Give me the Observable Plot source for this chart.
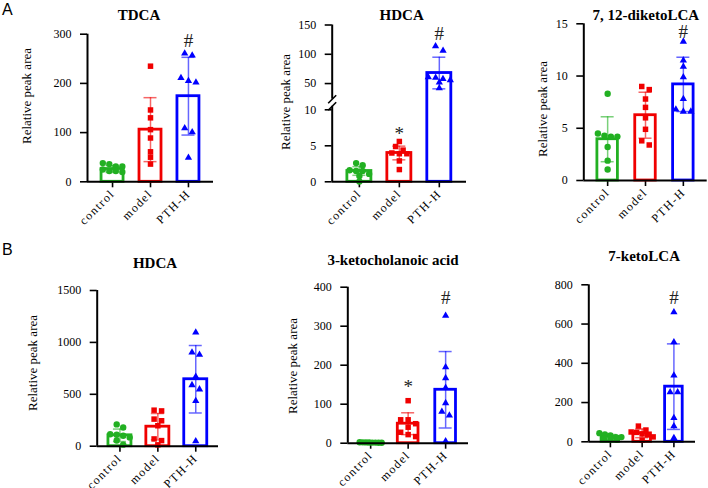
<!DOCTYPE html>
<html><head><meta charset="utf-8">
<script src="https://cdn.jsdelivr.net/npm/d3@7"></script>
<script src="https://cdn.jsdelivr.net/npm/@observablehq/plot@0.6"></script>
<style>
body{margin:0;background:#fff;}
#chart{position:relative;width:708px;height:488px;background:#fff;overflow:hidden;font-family:"Liberation Serif",serif;color:#000;}
#chart svg{position:absolute;}
#chart svg [aria-label="x-axis tick label"] text,#chart svg [aria-label="x-axis"] text{letter-spacing:1.4px;}
#chart svg g[aria-label$="axis tick"] path,#chart svg g[aria-label$="-axis"] .tick line{stroke-width:1.6px;}
.ttl{position:absolute;font-weight:bold;font-size:15px;line-height:1;white-space:nowrap;transform:translateX(-50%);}
.ylab{position:absolute;font-size:13px;line-height:1;white-space:nowrap;transform:translate(-50%,-50%) rotate(-90deg);}
.plab{position:absolute;font-family:"Liberation Sans",Arial,sans-serif;font-size:16px;line-height:1;}
</style></head>
<body><div id="chart"></div>
<script>
// ---------------- data ----------------
const groups = ["control", "model", "PTH-H"];
const colors = ["#22b022", "#f00000", "#0000ff"];
const symbols = ["circle", "square", "triangle"];

// A: TDCA
const tdcaControl = [38, 36, 31, 31, 25, 22, 22, 20];
const tdcaModel = [235, 146, 130, 106, 89, 61, 50, 36];
const tdcaPTH = [261, 257, 211, 205, 202, 109, 101, 49];
const tdcaMean = [26, 106, 174];
const tdcaSD = [7, 65, 79];
const tdcaTicks = [0, 100, 200, 300];
const tdcaSig = ["", "", "#"];

// A: HDCA (broken axis)
const hdcaAControl = [2.6, 2.3, 1.6, 1.5, 1.5, 1.1, 0.8, 0.05];
const hdcaAModel = [5.6, 4.9, 4.4, 4.0, 3.9, 3.9, 2.9, 1.7];
const hdcaAPTH = [114, 106, 61, 60, 58, 56, 52, 42];
const hdcaAMean = [1.5, 4.0, 68];
const hdcaASD = [0.6, 0.95, 27];
const hdcaATicks = [0, 5, 10, 50, 100, 150];
const hdcaABreak = [0, 10, 25, 150];
const hdcaASig = ["", "*", "#"];

// A: 7, 12-diketoLCA
const dkControl = [8.3, 4.5, 4.3, 4.2, 4.2, 3.2, 1.9, 1.05];
const dkModel = [9.0, 8.7, 7.8, 7.0, 6.0, 4.9, 3.8, 3.4];
const dkPTH = [13.3, 11.5, 10.9, 9.9, 7.8, 6.8, 6.6, 6.6];
const dkMean = [3.95, 6.25, 9.2];
const dkSD = [2.15, 2.2, 2.6];
const dkTicks = [0, 5, 10, 15];
const dkSig = ["", "", "#"];

// B: HDCA
const hdcaBControl = [210, 180, 115, 110, 100, 85, 55, 15];
const hdcaBModel = [347, 340, 261, 245, 197, 70, 54, 13];
const hdcaBPTH = [1096, 904, 882, 669, 589, 548, 436, 48];
const hdcaBMean = [105, 188, 645];
const hdcaBSD = [60, 127, 325];
const hdcaBTicks = [0, 500, 1000, 1500];
const hdcaBSig = ["", "", ""];

// B: 3-ketocholanoic acid
const kcControl = [2.5, 2.2, 2.0, 1.8, 1.6, 1.5, 1.2, 1.0];
const kcModel = [109, 60, 60, 50, 41, 28, 22, 17];
const kcPTH = [327, 195, 167, 142, 103, 81, 71, 5];
const kcMean = [2, 50, 137];
const kcSD = [0.5, 28, 98];
const kcTicks = [0, 100, 200, 300, 400];
const kcSig = ["", "*", "#"];

// B: 7-ketoLCA
const klControl = [44, 37, 32, 24, 24, 15, 15, 10];
const klModel = [80, 60, 50, 48, 40, 35, 25, 8];
const klPTH = [660, 508, 338, 253, 253, 122, 80, 20];
const klMean = [25, 43, 281];
const klSD = [12, 22, 218];
const klTicks = [0, 200, 400, 600, 800];
const klSig = ["", "", "#"];

// ---------------- layout ----------------
const panels = [
  {title: "TDCA", tx: 139, ty: 15.3, ylab: [26, 96], box: {left: 0, top: 0, width: 236, height: 240},
   x0: 87, x1: 213, po: 0.16, barW: 22, yDomain: [0, 300], yPixels: [181.3, 33.7], sigDy: -12,
   data: [tdcaControl, tdcaModel, tdcaPTH], mean: tdcaMean, sd: tdcaSD, ticks: tdcaTicks, sig: tdcaSig},
  {title: "HDCA", tx: 401.7, ty: 15, ylab: [285.3, 101.7], box: {left: 236, top: 0, width: 236, height: 240},
   x0: 331.7, x1: 466, po: 0.18, barW: 24, yDomain: hdcaABreak, yPixels: [181.3, 109.3, 97.7, 24.5], sigDy: -12,
   broken: true, data: [hdcaAControl, hdcaAModel, hdcaAPTH], mean: hdcaAMean, sd: hdcaASD, ticks: hdcaATicks, sig: hdcaASig},
  {title: "7, 12-diketoLCA", tx: 645.8, ty: 15, ylab: [541.7, 109.2], box: {left: 472, top: 0, width: 236, height: 240},
   x0: 583.3, x1: 706.7, po: 0.13, barW: 20.5, yDomain: [0, 15], yPixels: [180, 23.3], sigDy: -10,
   data: [dkControl, dkModel, dkPTH], mean: dkMean, sd: dkSD, ticks: dkTicks, sig: dkSig},
  {title: "HDCA", tx: 155, ty: 263.3, ylab: [31.7, 362.5], box: {left: 0, top: 240, width: 236, height: 248},
   x0: 96.7, x1: 218, po: 0.1, barW: 23, yDomain: [0, 1500], yPixels: [445.7, 290], sigDy: -12,
   data: [hdcaBControl, hdcaBModel, hdcaBPTH], mean: hdcaBMean, sd: hdcaBSD, ticks: hdcaBTicks, sig: hdcaBSig},
  {title: "3-ketocholanoic acid", tx: 393, ty: 260, ylab: [291.7, 366.2], box: {left: 236, top: 240, width: 236, height: 248},
   x0: 347.3, x1: 468, po: 0.11, barW: 20.7, yDomain: [0, 400], yPixels: [442.7, 286.7], sigDy: -18,
   data: [kcControl, kcModel, kcPTH], mean: kcMean, sd: kcSD, ticks: kcTicks, sig: kcSig},
  {title: "7-ketoLCA", tx: 644.2, ty: 256.7, ylab: null, box: {left: 472, top: 240, width: 236, height: 248},
   x0: 588.3, x1: 695, po: 0.18, barW: 17.6, yDomain: [0, 800], yPixels: [441.3, 284.3], sigDy: -14,
   data: [klControl, klModel, klPTH], mean: klMean, sd: klSD, ticks: klTicks, sig: klSig}
];

// simple row-based scatter spread (like GraphPad scatter)
function spread(vals, yPx, spacing, dmin, maxW) {
  const idx = vals.map((v, i) => i).sort((a, b) => yPx(vals[a]) - yPx(vals[b]));
  const off = new Array(vals.length).fill(0);
  let row = [];
  const flush = () => {
    const k = row.length;
    const s = k > 1 ? Math.min(spacing, maxW / (k - 1)) : 0;
    row.forEach((j, n) => off[j] = (n - (k - 1) / 2) * s);
    row = [];
  };
  for (const j of idx) {
    if (row.length && Math.abs(yPx(vals[j]) - yPx(vals[row[0]])) > dmin) flush();
    row.push(j);
  }
  flush();
  return off;
}

const chart = document.getElementById("chart");

for (const p of panels) {
  const {box} = p;
  const mL = p.x0 - box.left, mR = box.left + box.width - p.x1;
  const mT = p.yPixels[p.yPixels.length - 1] - box.top;
  const mB = box.top + box.height - p.yPixels[0];
  const xd = [-0.5 - p.po, 2.5 + p.po];
  const step = (p.x1 - p.x0) / (xd[1] - xd[0]);
  const yRange = p.yPixels.map(v => v - box.top);
  const yS = d3.scaleLinear().domain(p.yDomain).range(yRange);
  const yMax = p.yDomain[p.yDomain.length - 1];
  const bw = (p.barW / 2) / step;
  const cw = 6.5 / step;

  const bars = groups.map((g, i) => ({i, mean: p.mean[i], sd: p.sd[i], top: d3.max(p.data[i]), sig: p.sig[i]}));
  const marks = [];

  // bars
  marks.push(Plot.rect(bars, {x1: d => d.i - bw, x2: d => d.i + bw, y1: 0, y2: "mean",
    fill: "white", stroke: d => colors[d.i], strokeWidth: 2.8}));
  // error bars
  marks.push(Plot.ruleX(bars, {x: "i", y1: d => Math.max(0, d.mean - d.sd), y2: d => d.mean + d.sd,
    stroke: d => colors[d.i], strokeWidth: 1.5, strokeOpacity: 0.6}));
  marks.push(Plot.ruleY(bars, {y: d => d.mean + d.sd, x1: d => d.i - cw, x2: d => d.i + cw,
    stroke: d => colors[d.i], strokeWidth: 1.5, strokeOpacity: 0.6}));
  marks.push(Plot.ruleY(bars.filter(d => d.mean - d.sd > 0), {y: d => d.mean - d.sd, x1: d => d.i - cw, x2: d => d.i + cw,
    stroke: d => colors[d.i], strokeWidth: 1.5, strokeOpacity: 0.6}));

  // points
  p.data.forEach((vals, g) => {
    const off = spread(vals, yS, g === 0 ? 6.5 : 7.5, 5, 22);
    const pts = vals.map((v, k) => ({x: g + off[k] / step, y: v}));
    marks.push(Plot.dot(pts, {x: "x", y: "y", symbol: symbols[g], fill: colors[g], stroke: "none",
      r: g === 0 ? 3.2 : g === 1 ? 3.1 : 2.7}));
  });

  // significance marks
  const sigs = bars.filter(d => d.sig);
  marks.push(Plot.text(sigs.filter(d => d.sig === "#"), {x: "i", y: "top", text: "sig", dy: p.sigDy,
    fontSize: 19, fill: "#222", fontFamily: "Liberation Serif"}));
  marks.push(Plot.text(sigs.filter(d => d.sig === "*"), {x: "i", y: "top", text: "sig", dy: p.sigDy + 4,
    fontSize: 19, fill: "#222", fontFamily: "Liberation Serif"}));

  // axis lines
  marks.push(Plot.ruleY([0], {stroke: "black", strokeWidth: 2}));
  if (p.broken) {
    const lowTop = yS.invert(yS(p.yDomain[1]) - 3.5);
    const upBot = yS.invert(yS(p.yDomain[2]) + 1);
    marks.push(Plot.ruleX([xd[0]], {y1: 0, y2: lowTop, stroke: "black", strokeWidth: 2}));
    marks.push(Plot.ruleX([xd[0]], {y1: upBot, y2: yMax, stroke: "black", strokeWidth: 2}));
    const sl = [yS(p.yDomain[1]) - 3.5, yS(p.yDomain[2]) + 1].map(py => ({
      x1: xd[0] - 4 / step, x2: xd[0] + 4 / step, y1: yS.invert(py + 4), y2: yS.invert(py - 4)}));
    marks.push(Plot.link(sl, {x1: "x1", x2: "x2", y1: "y1", y2: "y2", stroke: "black", strokeWidth: 1.6}));
  } else {
    marks.push(Plot.ruleX([xd[0]], {y1: 0, y2: yMax, stroke: "black", strokeWidth: 2}));
  }

  const svg = Plot.plot({
    width: box.width, height: box.height,
    marginLeft: mL, marginRight: mR, marginTop: mT, marginBottom: mB,
    style: {fontFamily: "Liberation Serif", fontSize: "12px", color: "black", background: "transparent", overflow: "visible"},
    x: {type: "linear", domain: xd, ticks: [0, 1, 2], tickFormat: i => groups[i], tickRotate: -45, tickSize: 6, tickPadding: 4, label: null},
    y: {type: "linear", domain: p.yDomain, range: yRange, ticks: p.ticks, tickFormat: d => String(d), tickSize: 7, tickPadding: 9, label: null},
    color: {type: "identity"},
    marks
  });
  svg.style.left = box.left + "px";
  svg.style.top = box.top + "px";
  chart.appendChild(svg);

  const t = document.createElement("div");
  t.className = "ttl"; t.textContent = p.title;
  t.style.left = p.tx + "px"; t.style.top = (p.ty - 7.5) + "px";
  chart.appendChild(t);
  if (p.ylab) {
    const yl = document.createElement("div");
    yl.className = "ylab"; yl.textContent = "Relative peak area";
    yl.style.left = p.ylab[0] + "px"; yl.style.top = p.ylab[1] + "px";
    chart.appendChild(yl);
  }
}

for (const [txt, x, y] of [["A", 2, 2], ["B", 2, 242]]) {
  const d = document.createElement("div");
  d.className = "plab"; d.textContent = txt;
  d.style.left = x + "px"; d.style.top = y + "px";
  chart.appendChild(d);
}
</script></body></html>
